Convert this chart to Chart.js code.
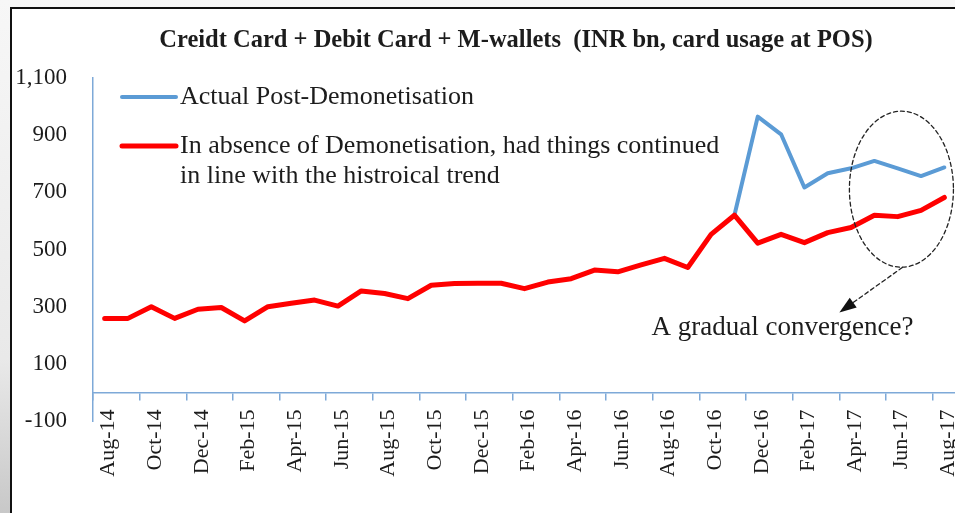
<!DOCTYPE html>
<html>
<head>
<meta charset="UTF-8">
<title>Card usage at POS</title>
<script src="https://cdn.jsdelivr.net/npm/chart.js@4.4.1/dist/chart.umd.min.js"></script>
<style>
  body { margin: 0; width: 955px; height: 513px; overflow: hidden; position: relative;
         background: linear-gradient(to bottom, #f7f7f7 0%, #e9e9e9 70%, #c8c8c8 100%); }
  .frame { position: absolute; left: 10px; top: 7px; width: 1000px; height: 600px;
           border: 2px solid #111; background: #fff; }
  #chart { position: absolute; left: 0; top: 0; }
</style>
</head>
<body>
<div class="frame"></div>
<canvas id="chart" width="1032" height="513"></canvas>

<script>
// monthly categories, Aug-14 .. Aug-17
var months = ['Aug-14','Sep-14','Oct-14','Nov-14','Dec-14','Jan-15','Feb-15','Mar-15','Apr-15','May-15',
              'Jun-15','Jul-15','Aug-15','Sep-15','Oct-15','Nov-15','Dec-15','Jan-16','Feb-16','Mar-16',
              'Apr-16','May-16','Jun-16','Jul-16','Aug-16','Sep-16','Oct-16','Nov-16','Dec-16','Jan-17',
              'Feb-17','Mar-17','Apr-17','May-17','Jun-17','Jul-17','Aug-17']

// INR bn
var actualPost = [null,null,null,null,null,null,null,null,null,null,
                  null,null,null,null,null,null,null,null,null,null,
                  null,null,null,null,null,null,null,620,965,903,
                  717,767,784,810,784,757,787]

var trendNoDemo = [259,259,300,259,291,297,250,300,312,323,
                   302,355,346,328,375,381,382,382,363,386,
                   398,428,422,446,469,437,553,620,522,553,
                   524,559,577,620,615,637,682]

var yTicks = [-100, 100, 300, 500, 700, 900, 1100]

var titleText = 'Creidt Card + Debit Card + M-wallets  (INR bn, card usage at POS)'
var noteText = 'A gradual convergence?'

var serif = '"Liberation Serif", "DejaVu Serif", serif'
var ink = '#1c1c1c'
var axisBlue = '#7ea9d8'

// legend + dashed ellipse / arrow note, placed in month-index / value units
var notes = {
  id: 'notes',
  afterDatasetsDraw: function(chart) {
    var ctx = chart.ctx, area = chart.chartArea
    var x = chart.scales.x, y = chart.scales.y

    ctx.save()
    // legend inside plot
    var rowY = [area.top + 19, area.top + 68]
    ctx.font = '26px ' + serif
    ctx.fillStyle = ink
    ctx.textBaseline = 'middle'
    ctx.textAlign = 'left'
    chart.data.datasets.forEach(function(ds, k) {
      ctx.strokeStyle = ds.borderColor
      ctx.lineWidth = ds.borderWidth
      ctx.lineCap = 'round'
      ctx.beginPath()
      ctx.moveTo(area.left + 29, rowY[k])
      ctx.lineTo(area.left + 83, rowY[k])
      ctx.stroke()
      ds.label.split('\n').forEach(function(line, j) {
        ctx.fillText(line, area.left + 87, rowY[k] + j * 30)
      })
    })

    // dashed ellipse
    var cx = x.getPixelForValue(34.16), cy = y.getPixelForValue(711)
    var rx = x.getPixelForValue(34.16 + 2.23) - cx
    var ry = cy - y.getPixelForValue(711 + 273)
    ctx.strokeStyle = '#222'
    ctx.lineWidth = 1.3
    ctx.setLineDash([4, 3])
    ctx.beginPath()
    ctx.ellipse(cx, cy, rx, ry, 0, 0, Math.PI * 2)
    ctx.stroke()

    // dashed arrow to the note
    var ax = x.getPixelForValue(34.2), ay = y.getPixelForValue(437)
    var bx = x.getPixelForValue(31.5), by = y.getPixelForValue(280)
    var ang = Math.atan2(by - ay, bx - ax)
    ctx.beginPath()
    ctx.moveTo(ax, ay)
    ctx.lineTo(bx - 14 * Math.cos(ang), by - 14 * Math.sin(ang))
    ctx.stroke()
    ctx.setLineDash([])
    ctx.fillStyle = '#111'
    ctx.beginPath()
    ctx.moveTo(bx, by)
    ctx.lineTo(bx - 17 * Math.cos(ang) + 6 * Math.sin(ang), by - 17 * Math.sin(ang) - 6 * Math.cos(ang))
    ctx.lineTo(bx - 17 * Math.cos(ang) - 6 * Math.sin(ang), by - 17 * Math.sin(ang) + 6 * Math.cos(ang))
    ctx.closePath()
    ctx.fill()

    ctx.fillStyle = ink
    ctx.textAlign = 'center'
    ctx.font = '27px ' + serif
    ctx.fillText(noteText, x.getPixelForValue(29.06), y.getPixelForValue(227))
    ctx.restore()
  }
}

var chart = new Chart(document.getElementById('chart'), {
  type: 'line',
  data: {
    labels: months,
    datasets: [{
      label: 'Actual Post-Demonetisation',
      data: actualPost,
      borderColor: '#5b9bd5',
      borderWidth: 4,
      order: 1
    }, {
      label: 'In absence of Demonetisation, had things continued\nin line with the histroical trend',
      data: trendNoDemo,
      borderColor: '#ff0000',
      borderWidth: 5,
      order: 0
    }]
  },
  options: {
    responsive: false,
    animation: false,
    layout: { padding: { left: 0, right: 0, top: 0, bottom: 92 } },
    elements: {
      point: { radius: 0, hoverRadius: 0 },
      line: { tension: 0, borderJoinStyle: 'round', borderCapStyle: 'round', fill: false }
    },
    plugins: {
      legend: { display: false },
      tooltip: { enabled: false },
      title: {
        display: true,
        text: titleText,
        color: ink,
        font: { family: serif, size: 24.5, weight: 'bold', lineHeight: 1.2 },
        padding: { top: 26, bottom: 22.6 }
      }
    },
    scales: {
      x: {
        type: 'category',
        position: { y: 0 },
        offset: true,
        border: { color: axisBlue, width: 1.5 },
        grid: {
          offset: true,
          drawOnChartArea: false,
          tickLength: 7,
          lineWidth: 1.5,
          color: function(c) { return c.index % 2 === 0 ? axisBlue : 'rgba(0,0,0,0)' }
        },
        ticks: {
          autoSkip: false,
          minRotation: 90,
          maxRotation: 90,
          padding: 10,
          labelOffset: 4,
          color: ink,
          font: { family: serif, size: 22 },
          callback: function(v, i) { return i % 2 === 0 ? months[i] : '' }
        }
      },
      y: {
        position: 'left',
        min: -100,
        max: 1100,
        afterFit: function(s) { s.width = 93 },
        afterBuildTicks: function(s) { s.ticks = yTicks.map(function(v) { return { value: v } }) },
        border: { color: axisBlue, width: 1.5 },
        grid: { drawOnChartArea: false, drawTicks: false },
        ticks: {
          padding: 26,
          color: ink,
          font: { family: serif, size: 23 },
          callback: function(v) { return v.toLocaleString('en-US') }
        }
      },
      // empty right-hand strip so the plot runs past the cropped right edge
      yPad: {
        type: 'linear',
        position: 'right',
        afterFit: function(s) { s.width = 76 },
        border: { display: false },
        grid: { display: false },
        ticks: { display: false }
      }
    }
  },
  plugins: [notes]
})
</script>
</body>
</html>
